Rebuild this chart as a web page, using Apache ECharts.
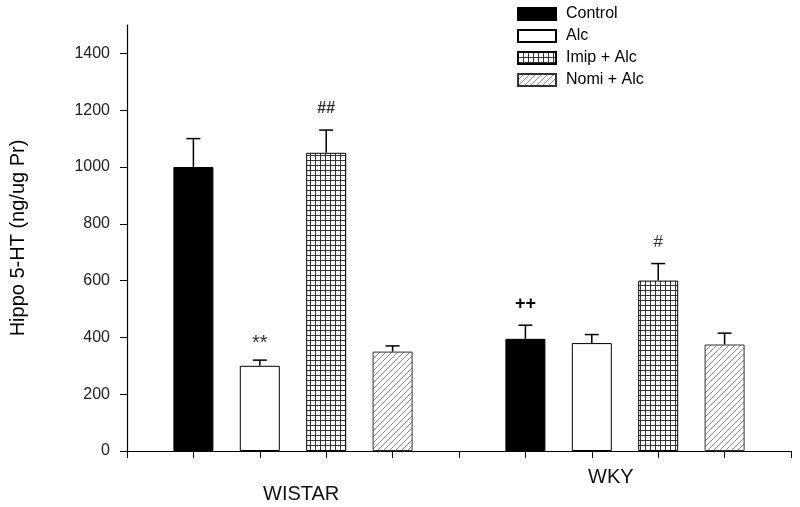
<!DOCTYPE html>
<html>
<head>
<meta charset="utf-8">
<script src="https://cdn.jsdelivr.net/npm/echarts@6/dist/echarts.min.js"></script>
<style>
html,body{margin:0;padding:0;background:#fff;}
#chart{width:800px;height:507px;}
</style>
</head>
<body>
<div id="chart"></div>
<script>
// ---- data ----
const groups = ['WISTAR', 'WKY'];
const treatments = ['Control', 'Alc', 'Imip + Alc', 'Nomi + Alc'];
const controlMean = [1000, 395];
const alcMean = [300, 380];
const imipMean = [1050, 600];
const nomiMean = [350, 375];
const controlSE = [100, 48];
const alcSE = [20, 30];
const imipSE = [80, 60];
const nomiSE = [20, 40];
const controlNote = ['', '++'];
const alcNote = ['**', ''];
const imipNote = ['##', '#'];
const nomiNote = ['', ''];
const yTicks = [0, 200, 400, 600, 800, 1000, 1200, 1400];

const means = [controlMean, alcMean, imipMean, nomiMean];
const ses = [controlSE, alcSE, imipSE, nomiSE];
const notes = [controlNote, alcNote, imipNote, nomiNote];

// x slots: empty, 4 bars, empty gap, 4 bars, empty
const xSlots = [''];
groups.forEach((g, gi) => {
  treatments.forEach(t => xSlots.push(g + ' ' + t));
  xSlots.push('');
});
function slotOf(gi, ti) { return gi * 5 + ti + 1; }

// ---- patterns ----
function gridPattern() {
  const c = document.createElement('canvas');
  c.width = 5; c.height = 5;
  const ctx = c.getContext('2d');
  ctx.fillStyle = '#fff'; ctx.fillRect(0, 0, 5, 5);
  ctx.fillStyle = '#333';
  ctx.fillRect(0, 0, 5, 1);
  ctx.fillRect(0, 0, 1, 5);
  return c;
}
function hatchPattern() {
  const c = document.createElement('canvas');
  c.width = 6; c.height = 6;
  const ctx = c.getContext('2d');
  ctx.fillStyle = '#fff'; ctx.fillRect(0, 0, 6, 6);
  ctx.strokeStyle = '#888'; ctx.lineWidth = 1;
  ctx.beginPath();
  ctx.moveTo(-1, 7); ctx.lineTo(7, -1);
  ctx.moveTo(-4, 4); ctx.lineTo(4, -4);
  ctx.moveTo(2, 10); ctx.lineTo(10, 2);
  ctx.stroke();
  return c;
}

const styles = [
  { color: '#000', borderColor: '#000', borderWidth: 1 },
  { color: '#fff', borderColor: '#000', borderWidth: 1 },
  { color: { image: gridPattern(), repeat: 'repeat' }, borderColor: '#000', borderWidth: 1 },
  { color: { image: hatchPattern(), repeat: 'repeat' }, borderColor: '#333', borderWidth: 1 }
];

const FONT = '"Liberation Sans", Arial, sans-serif';

const series = treatments.map((t, ti) => {
  const data = xSlots.map(() => null);
  groups.forEach((g, gi) => { data[slotOf(gi, ti)] = means[ti][gi]; });
  return {
    name: t, type: 'bar', data: data, barWidth: 40, barGap: '-100%',
    itemStyle: styles[ti], z: 2
  };
});

const errData = [];
treatments.forEach((t, ti) => {
  groups.forEach((g, gi) => {
    errData.push([slotOf(gi, ti), means[ti][gi], ses[ti][gi], notes[ti][gi]]);
  });
});

const noteFont = { '**': '20px ', '##': 'bold 16px ', '++': 'bold 18px ', '#': '17px ' };

series.push({
  name: 'err', type: 'custom', z: 5,
  encode: { x: 0, y: 1 },
  data: errData,
  renderItem: function (params, api) {
    const x = api.value(0);
    const m = api.value(1);
    const e = api.value(2);
    const note = errData[params.dataIndex][3];
    const p0 = api.coord([x, m]);
    const p1 = api.coord([x, m + e]);
    const half = 7;
    const children = [
      { type: 'line', shape: { x1: p0[0], y1: p0[1], x2: p1[0], y2: p1[1] }, style: { stroke: '#000', lineWidth: 1.5 } },
      { type: 'line', shape: { x1: p1[0] - half, y1: p1[1], x2: p1[0] + half, y2: p1[1] }, style: { stroke: '#000', lineWidth: 1.5 } }
    ];
    if (note) {
      children.push({
        type: 'text',
        style: {
          text: note, x: p1[0], y: p1[1] - (note === '**' ? 17 : 21),
          align: 'center', verticalAlign: 'middle',
          fill: note === '++' ? '#000' : '#333',
          font: noteFont[note] + FONT
        }
      });
    }
    return { type: 'group', children: children };
  }
});

const chart = echarts.init(document.getElementById('chart'));
chart.setOption({
  animation: false,
  backgroundColor: '#fff',
  grid: { left: 127, right: 9, top: 25, bottom: 56, containLabel: false },
  legend: {
    data: treatments, orient: 'vertical', left: 517, top: 6, padding: 0,
    itemWidth: 38, itemHeight: 12, itemGap: 6, icon: 'rect',
    textStyle: { fontSize: 16, color: '#000', fontFamily: FONT, padding: [0, 0, 0, 5] }
  },
  xAxis: {
    type: 'category', data: xSlots, boundaryGap: false,
    axisLine: { lineStyle: { color: '#000', width: 1.2 } },
    axisTick: { show: true, interval: 0, length: 7, inside: false, lineStyle: { color: '#000' } },
    axisLabel: { show: false },
    splitLine: { show: false }
  },
  yAxis: {
    type: 'value', min: 0, max: 1500, interval: 100,
    name: 'Hippo 5-HT (ng/ug Pr)', nameLocation: 'middle', nameGap: 99, nameRotate: 90,
    nameTextStyle: { fontSize: 20, color: '#000', fontFamily: FONT },
    axisLine: { show: true, lineStyle: { color: '#000', width: 1.2 } },
    axisTick: { show: true, length: 7, customValues: yTicks, lineStyle: { color: '#000' } },
    axisLabel: { customValues: yTicks, fontSize: 16, color: '#222', fontFamily: FONT, margin: 17,
      formatter: v => String(v) },
    splitLine: { show: false }
  },
  graphic: [
    { type: 'text', left: 263, top: 484, style: { text: groups[0], font: '20px ' + FONT, fill: '#111' } },
    { type: 'text', left: 588, top: 467, style: { text: groups[1], font: '20px ' + FONT, fill: '#111' } }
  ],
  series: series
});
</script>
</body>
</html>
